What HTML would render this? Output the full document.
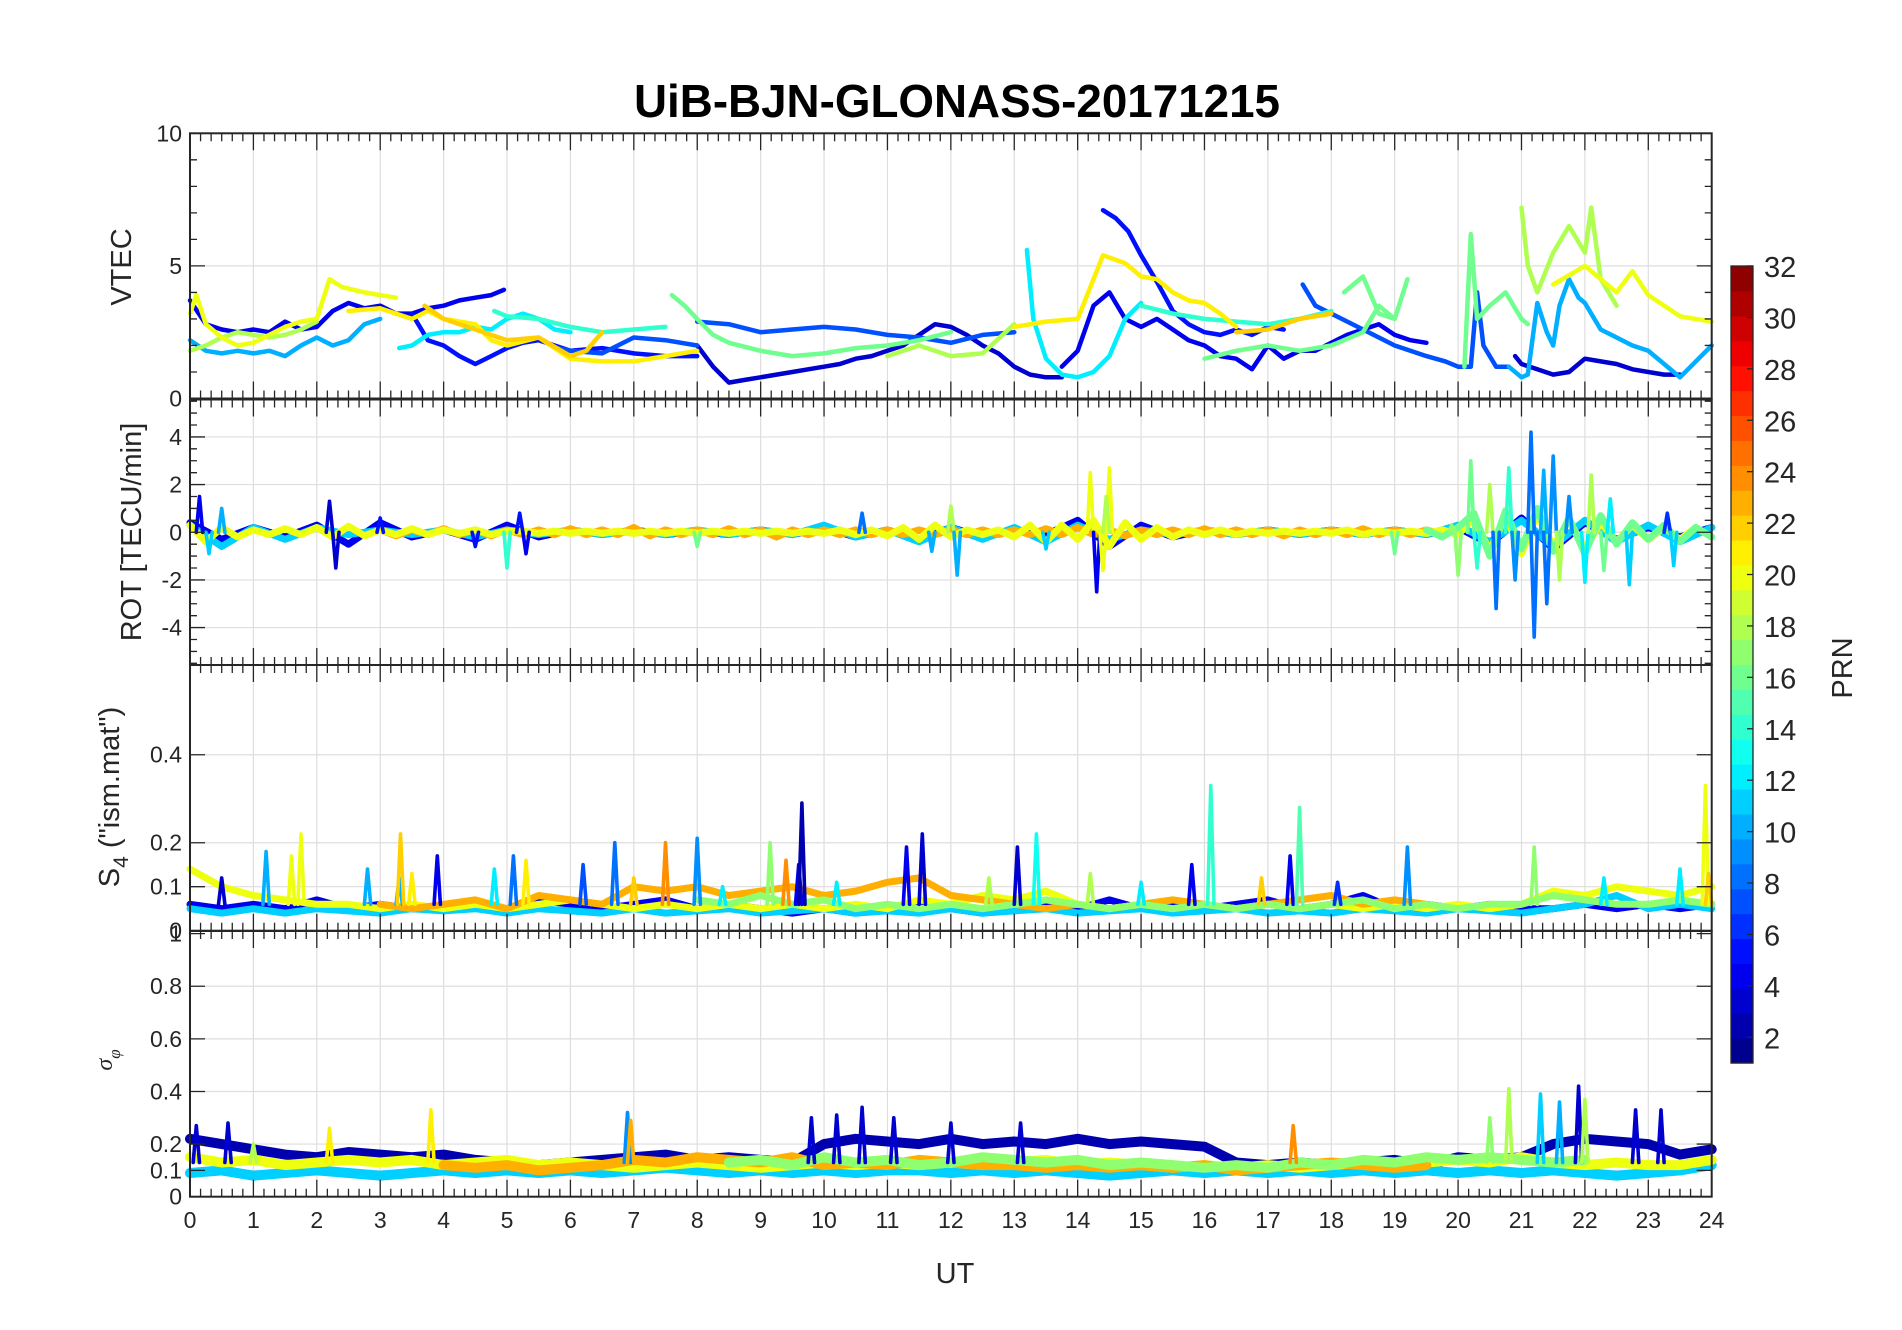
<!DOCTYPE html>
<html><head><meta charset="utf-8"><title>UiB-BJN-GLONASS-20171215</title>
<style>
html,body{margin:0;padding:0;background:#fff;}
svg{display:block;font-family:"Liberation Sans",Arial,sans-serif;}
</style></head>
<body>
<svg id="fig" width="1902" height="1330" viewBox="0 0 1902 1330" xmlns="http://www.w3.org/2000/svg">
<rect x="0" y="0" width="1902" height="1330" fill="#fff"/>
<text x="957" y="117" text-anchor="middle" font-size="46" font-weight="bold" textLength="646" lengthAdjust="spacingAndGlyphs" fill="#000">UiB-BJN-GLONASS-20171215</text>
<g id="grid"></g>
<g id="marks"></g>
<g id="axes"></g>
<g id="cbar"></g>
</svg>
<script>
// ---------- data ----------
const xTicks = [0,1,2,3,4,5,6,7,8,9,10,11,12,13,14,15,16,17,18,19,20,21,22,23,24];
const cbarTicks = [2,4,6,8,10,12,14,16,18,20,22,24,26,28,30,32];

// VTEC series
const vtecPrn = [4,5,5,3,3,4,7,7,7,10,10,12,12,14,14,16,16,16,16,18,18,18,20,20,21,21,22,22];
const vtecTimes = [
 [0,0.25,0.5,0.75,1,1.25,1.5,1.75,2,2.25,2.5,2.75,3,3.25,3.5,3.75,4,4.25,4.5,4.75,4.95],
 [3.5,3.75,4,4.25,4.5,4.75,5,5.25,5.5,5.75,6,6.5,7,7.5,8],
 [14.4,14.6,14.8,15,15.25,15.5,15.75,16,16.25,16.5,16.75,17,17.25],
 [8,8.25,8.5,8.75,9,9.25,9.5,9.75,10,10.25,10.5,10.75,11,11.25,11.5,11.75,12,12.25,12.5,12.75,13,13.25,13.5,13.75],
 [20.9,21,21.25,21.5,21.75,22,22.25,22.5,22.75,23,23.25,23.5],
 [13.75,14,14.25,14.5,14.75,15,15.25,15.5,15.75,16,16.25,16.5,16.75,17,17.25,17.5,17.75,18,18.25,18.5,18.75,19,19.25,19.5],
 [5.8,6,6.5,7,7.5,8],
 [8,8.5,9,9.5,10,10.5,11,11.5,12,12.5,13],
 [17.55,17.75,18,18.5,19,19.5,19.8,20,20.2,20.3,20.4,20.6,20.8],
 [0,0.25,0.5,0.75,1,1.25,1.5,1.75,2,2.25,2.5,2.75,3],
 [20.8,21,21.1,21.25,21.4,21.5,21.6,21.75,21.9,22,22.25,22.5,22.75,23,23.25,23.5,23.75,24],
 [13.2,13.3,13.5,13.75,14,14.25,14.5,14.75,15],
 [3.3,3.5,3.75,4,4.25,4.5,4.75,5,5.25,5.5,5.75,6],
 [4.8,5,5.5,6,6.5,7,7.5],
 [15,15.5,16,16.5,17,17.5,18],
 [7.6,7.8,8,8.25,8.5,9,9.5,10,10.5,11,11.5,12],
 [16,16.5,17,17.5,18,18.5,18.75,19],
 [18.2,18.5,18.75,19,19.2],
 [20.1,20.2,20.3,20.5,20.75,21,21.1],
 [0,0.25,0.5,0.75,1,1.25,1.5,1.75,2],
 [21,21.1,21.25,21.5,21.75,22,22.1,22.25,22.5],
 [11,11.5,12,12.5,13],
 [0,0.1,0.25,0.5,0.75,1,1.25,1.5,1.75,2,2.2,2.4,2.75,3,3.25],
 [21.5,22,22.5,22.75,23,23.5,24],
 [13,13.5,14,14.25,14.4,14.75,15,15.25,15.5,15.75,16,16.25,16.5],
 [2.5,3,3.5,3.75,4,4.5,4.75,5,5.5,6,6.5,7,7.5,8],
 [3.7,4,4.5,5,5.5,6,6.25,6.5],
 [16.5,17,17.5,18]
];
const vtecValues = [
 [3.7,2.8,2.6,2.5,2.6,2.5,2.9,2.6,2.7,3.3,3.6,3.4,3.5,3.2,3.2,3.4,3.5,3.7,3.8,3.9,4.1],
 [3.2,2.2,2.0,1.6,1.3,1.6,1.9,2.1,2.2,2.0,1.8,1.9,1.7,1.6,1.6],
 [7.1,6.8,6.3,5.4,4.4,3.3,2.8,2.5,2.4,2.6,2.4,2.7,2.6],
 [2.0,1.2,0.6,0.7,0.8,0.9,1.0,1.1,1.2,1.3,1.5,1.6,1.8,2.0,2.4,2.8,2.7,2.4,2.0,1.7,1.2,0.9,0.8,0.8],
 [1.6,1.3,1.1,0.9,1.0,1.5,1.4,1.3,1.1,1.0,0.9,0.9],
 [1.2,1.8,3.5,4.0,3.0,2.7,3.0,2.6,2.2,2.0,1.6,1.5,1.1,2.0,1.5,1.8,1.8,2.1,2.4,2.6,2.8,2.4,2.2,2.1],
 [1.9,1.8,1.7,2.3,2.2,2.0],
 [2.9,2.8,2.5,2.6,2.7,2.6,2.4,2.3,2.1,2.4,2.5],
 [4.3,3.5,3.2,2.6,2.0,1.6,1.4,1.2,1.2,4.0,2.0,1.2,1.2],
 [2.2,1.8,1.7,1.8,1.7,1.8,1.6,2.0,2.3,2.0,2.2,2.8,3.0],
 [1.2,0.8,0.9,3.6,2.5,2.0,3.5,4.5,3.8,3.6,2.6,2.3,2.0,1.8,1.3,0.8,1.4,2.0],
 [5.6,3.0,1.5,0.9,0.8,1.0,1.6,3.0,3.6],
 [1.9,2.0,2.4,2.5,2.5,2.7,2.6,3.0,3.2,3.0,2.6,2.5],
 [3.3,3.1,3.0,2.7,2.5,2.6,2.7],
 [3.5,3.2,3.0,2.9,2.8,3.0,3.3],
 [3.9,3.5,3.0,2.4,2.1,1.8,1.6,1.7,1.9,2.0,2.2,2.5],
 [1.5,1.8,2.0,1.8,2.0,2.5,3.5,3.0],
 [4.0,4.6,3.2,3.0,4.5],
 [1.2,6.2,3.0,3.5,4.0,3.0,2.8],
 [1.8,2.0,2.3,2.5,2.4,2.3,2.4,2.6,2.9],
 [7.2,5.0,4.0,5.5,6.5,5.5,7.2,4.5,3.5],
 [1.6,2.0,1.6,1.7,2.8],
 [3.2,3.9,2.8,2.3,2.0,2.1,2.4,2.7,2.9,3.0,4.5,4.2,4.0,3.9,3.8],
 [4.3,5.0,4.0,4.8,3.9,3.1,2.9],
 [2.7,2.9,3.0,4.5,5.4,5.1,4.6,4.5,4.0,3.7,3.6,3.2,2.7],
 [3.3,3.4,3.0,3.3,3.0,2.8,2.2,2.0,2.3,1.5,1.4,1.4,1.6,1.8],
 [3.5,3.0,2.6,2.2,2.3,1.6,1.8,2.5],
 [2.5,2.6,3.0,3.2]
];

// ROT bands
const rotBandPrn = [4,11,23,20,16];
const rotBandStart = [0,0,3,0,19.5];
const rotBandStep = [0.5,0.5,0.25,0.25,0.25];
const rotBandValues = [
 [0.4,-0.3,0.2,-0.2,0.3,-0.5,0.4,-0.2,0.1,-0.3,0.3,-0.2,0.1,-0.1,0.1,-0.1,0.05,-0.1,0.1,-0.1,0.2,-0.2,0.1,-0.3,0.2,-0.2,0.1,-0.1,0.5,-0.6,0.3,-0.2,0.1,-0.1,0.1,-0.1,0.1,-0.1,0.1,-0.1,0.2,-0.5,0.6,-0.7,0.4,-0.3,0.2,-0.2,0.2],
 [0.3,-0.6,0.2,-0.3,0.2,-0.1,0.1,-0.1,0.1,-0.2,0.1,-0.1,0.1,-0.1,0.05,-0.1,0.1,-0.1,0.1,-0.1,0.3,-0.2,0.1,-0.4,0.2,-0.3,0.2,-0.4,0.3,-0.3,0.1,-0.1,0.1,-0.1,0.1,-0.1,0.1,-0.1,0.1,-0.1,0.3,-0.4,0.5,-0.6,0.5,-0.4,0.3,-0.4,0.2],
 [0.1,-0.15,0.1,-0.1,0.15,-0.1,0.1,-0.15,0.1,-0.1,0.1,-0.1,0.15,-0.1,0.1,-0.1,0.2,-0.15,0.1,-0.1,0.1,-0.1,0.15,-0.1,0.1,-0.2,0.1,-0.1,0.1,-0.1,0.1,-0.1,0.1,-0.1,0.1,-0.1,0.1,-0.1,0.1,-0.1,0.1,-0.1,0.15,-0.1,0.2,-0.1,0.1,-0.15,0.1,-0.1,0.1,-0.1,0.15,-0.1,0.1,-0.1,0.1,-0.15,0.1,-0.1,0.1,-0.1,0.15,-0.1,0.1,-0.1,0.1,-0.1],
 [0.3,-0.4,0.2,-0.2,0.1,-0.1,0.15,-0.1,0.2,-0.2,0.25,-0.15,0.1,-0.1,0.15,-0.1,0.1,-0.05,0.1,-0.1,0.05,0.05,-0.05,0.05,-0.05,0.05,-0.05,0.05,-0.05,0.05,-0.05,0.05,-0.05,0.05,-0.05,0.05,-0.05,0.05,-0.05,0.05,-0.05,0.1,-0.1,0.1,-0.15,0.2,-0.3,0.3,-0.2,0.1,-0.1,0.1,-0.2,0.3,-0.4,0.3,-0.3,0.5,-0.6,0.4,-0.3,0.2,-0.2,0.1,-0.1,0.1,-0.1,0.05,-0.05,0.05,-0.05,0.05,-0.05,0.1,-0.1,0.05,-0.05,0.05,-0.05,0.1,-0.1,0.6,-0.8,0.7,-0.9,0.8,-0.6,0.5,-0.7,0.4,-0.4,0.3,-0.3,0.2,-0.3,0.2,-0.2],
 [0.1,-0.2,0.2,0.8,-1.0,0.9,-0.7,1.0,-0.8,0.6,-0.9,0.7,-0.5,0.4,-0.3,0.3,-0.4,0.2,-0.2]
];
const rotSpikeT = [0.15,0.3,0.5,2.2,2.3,3.0,4.5,5.0,5.2,5.3,8.0,10.6,11.7,12.0,12.1,13.5,14.2,14.3,14.4,14.5,14.45,19.0,19.9,20.0,20.2,20.3,20.5,20.6,20.8,20.9,21.15,21.2,21.35,21.4,21.5,21.6,21.75,22.0,22.1,22.3,22.4,22.7,23.3,23.4];
const rotSpikeV = [1.5,-0.9,1.0,1.3,-1.5,0.6,-0.6,-1.5,0.8,-0.9,-0.6,0.8,-0.8,1.1,-1.8,-0.7,2.5,-2.5,-1.6,2.7,1.5,-0.9,0.3,-1.8,3.0,-1.5,2.0,-3.2,2.7,-2.0,4.2,-4.4,2.6,-3.0,3.2,-2.0,1.5,-2.1,2.4,-1.6,1.4,-2.2,0.8,-1.4];
const rotSpikePrn = [4,11,10,3,3,5,5,14,5,4,16,8,10,18,10,11,20,4,20,20,18,16,17,17,16,14,18,8,14,9,8,8,10,8,9,18,9,12,18,16,12,11,6,11];

// S4 bands (step 0.5 h)
const s4BandPrn = [4,11,20,23,17];
const s4BandStart = [0,0,0,3,8];
const s4BandValues = [
 [0.06,0.05,0.06,0.05,0.07,0.05,0.06,0.05,0.05,0.06,0.05,0.07,0.06,0.05,0.06,0.07,0.05,0.06,0.05,0.04,0.05,0.04,0.05,0.06,0.05,0.04,0.05,0.06,0.05,0.07,0.05,0.06,0.05,0.06,0.07,0.05,0.06,0.08,0.05,0.06,0.05,0.06,0.05,0.05,0.06,0.05,0.06,0.05,0.06],
 [0.05,0.04,0.05,0.04,0.05,0.045,0.04,0.05,0.045,0.05,0.04,0.05,0.045,0.04,0.05,0.04,0.045,0.05,0.04,0.045,0.05,0.04,0.045,0.04,0.05,0.04,0.045,0.05,0.04,0.045,0.05,0.04,0.045,0.05,0.04,0.045,0.04,0.05,0.045,0.04,0.05,0.045,0.04,0.05,0.06,0.08,0.05,0.06,0.05],
 [0.14,0.1,0.08,0.07,0.06,0.06,0.05,0.06,0.05,0.06,0.05,0.06,0.07,0.06,0.05,0.06,0.05,0.06,0.05,0.06,0.05,0.06,0.05,0.07,0.06,0.08,0.07,0.09,0.06,0.05,0.06,0.05,0.06,0.05,0.06,0.05,0.06,0.05,0.06,0.05,0.06,0.05,0.06,0.09,0.08,0.1,0.09,0.08,0.1],
 [0.06,0.05,0.06,0.07,0.05,0.08,0.07,0.06,0.1,0.09,0.1,0.08,0.09,0.1,0.08,0.09,0.11,0.12,0.08,0.07,0.06,0.05,0.06,0.05,0.06,0.07,0.06,0.05,0.06,0.07,0.08,0.06,0.07,0.06],
 [0.07,0.06,0.08,0.06,0.07,0.05,0.06,0.05,0.06,0.05,0.06,0.07,0.06,0.05,0.06,0.05,0.06,0.05,0.06,0.05,0.06,0.07,0.05,0.06,0.05,0.06,0.06,0.08,0.07,0.06,0.06,0.07,0.06]
];
const s4SpikeT = [0.5,1.2,1.6,1.75,2.8,3.3,3.32,3.5,3.9,4.8,5.1,5.3,6.2,6.7,7.0,7.5,8.0,8.4,9.15,9.4,9.6,9.65,10.2,11.3,11.55,12.6,13.05,13.35,14.2,15.0,15.8,16.1,16.9,17.35,17.5,18.1,19.2,21.2,22.3,23.5,23.9,23.95];
const s4SpikeV = [0.12,0.18,0.17,0.22,0.14,0.12,0.22,0.13,0.17,0.14,0.17,0.16,0.15,0.2,0.12,0.2,0.21,0.1,0.2,0.16,0.15,0.29,0.11,0.19,0.22,0.12,0.19,0.22,0.13,0.11,0.15,0.33,0.12,0.17,0.28,0.11,0.19,0.19,0.12,0.14,0.33,0.13];
const s4SpikePrn = [3,10,20,20,10,10,22,21,4,12,8,21,7,8,22,24,9,12,17,24,4,2,12,4,3,18,3,13,18,12,4,14,22,4,15,6,9,17,12,12,20,22];

// sigma-phi bands (step 0.5 h)
const sigBandPrn = [2,11,20,23,17];
const sigBandStart = [0,0,0,4,8.5];
const sigBandValues = [
 [0.22,0.2,0.18,0.16,0.15,0.17,0.16,0.15,0.16,0.14,0.13,0.12,0.13,0.14,0.15,0.16,0.14,0.15,0.14,0.13,0.2,0.22,0.21,0.2,0.22,0.2,0.21,0.2,0.22,0.2,0.21,0.2,0.19,0.13,0.12,0.13,0.12,0.13,0.14,0.12,0.15,0.14,0.15,0.2,0.22,0.21,0.2,0.16,0.18],
 [0.09,0.1,0.08,0.09,0.1,0.09,0.08,0.09,0.1,0.09,0.1,0.09,0.1,0.09,0.1,0.11,0.1,0.09,0.1,0.09,0.1,0.09,0.1,0.1,0.09,0.1,0.09,0.1,0.09,0.08,0.09,0.1,0.09,0.1,0.09,0.1,0.09,0.1,0.09,0.1,0.09,0.1,0.09,0.1,0.09,0.08,0.09,0.1,0.12],
 [0.15,0.13,0.14,0.12,0.13,0.14,0.13,0.14,0.12,0.13,0.14,0.12,0.13,0.12,0.11,0.12,0.13,0.12,0.11,0.12,0.13,0.12,0.13,0.12,0.13,0.12,0.13,0.14,0.12,0.13,0.12,0.11,0.12,0.11,0.12,0.11,0.12,0.13,0.12,0.13,0.14,0.13,0.15,0.13,0.12,0.13,0.12,0.12,0.14],
 [0.12,0.11,0.12,0.1,0.11,0.12,0.14,0.13,0.15,0.14,0.13,0.15,0.12,0.13,0.12,0.14,0.13,0.12,0.12,0.11,0.12,0.11,0.12,0.11,0.12,0.1,0.11,0.12,0.13,0.12,0.11,0.12],
 [0.13,0.14,0.12,0.15,0.13,0.14,0.12,0.13,0.15,0.14,0.13,0.14,0.12,0.13,0.12,0.11,0.12,0.11,0.13,0.12,0.14,0.13,0.15,0.14,0.15,0.14,0.13,0.14]
];
const sigSpikeT = [0.1,0.6,1.0,2.2,3.8,6.9,6.95,9.8,10.2,10.6,11.1,12.0,13.1,17.4,20.5,20.8,21.3,21.6,21.9,22.0,22.8,23.2];
const sigSpikeV = [0.27,0.28,0.2,0.26,0.33,0.32,0.29,0.3,0.31,0.34,0.3,0.28,0.28,0.27,0.3,0.41,0.39,0.36,0.42,0.37,0.33,0.33];
const sigSpikePrn = [3,3,18,21,21,9,23,3,3,3,3,3,3,24,17,18,11,10,3,18,3,3];

// ---------- layout ----------
const X0 = 190, X1 = 1711.7;
function xS(t){ return X0 + t*(X1-X0)/24; }
const panels = [
 {name:'vtec', top:133.3, bot:398.5, ymin:0, ymax:10, major:[0,5,10], labels:[0,5,10], minor:1, grid:[5]},
 {name:'rot', top:399.5, bot:665, ymin:-5.57, ymax:5.57, major:[-4,-2,0,2,4], labels:[-4,-2,0,2,4], minor:0.5, grid:[-4,-2,0,2,4]},
 {name:'s4', top:665, bot:930.7, ymin:0, ymax:0.604, major:[0,0.1,0.2,0.4], labels:[0,0.1,0.2,0.4], minor:0, grid:[0.1,0.2,0.4]},
 {name:'sigma', top:931, bot:1196.7, ymin:0, ymax:1.01, major:[0,0.1,0.2,0.4,0.6,0.8,1], labels:[0,0.1,0.2,0.4,0.6,0.8,1], minor:0, grid:[0.1,0.2,0.4,0.6,0.8]}
];
function yS(p,v){ return p.bot - (v-p.ymin)/(p.ymax-p.ymin)*(p.bot-p.top); }

function jet(i,n){
 const x=(i+0.5)/n;
 const c=v=>Math.round(255*Math.max(0,Math.min(1,v)));
 return 'rgb('+c(1.5-Math.abs(4*x-3))+','+c(1.5-Math.abs(4*x-2))+','+c(1.5-Math.abs(4*x-1))+')';
}
function prnColor(p){ let i=Math.floor((p-1)/31*32); if(i>31)i=31; if(i<0)i=0; return jet(i,32); }

const NS='http://www.w3.org/2000/svg';
function mk(tag,attrs,parent){ const e=document.createElementNS(NS,tag); for(const k in attrs)e.setAttribute(k,attrs[k]); parent.appendChild(e); return e; }
const gGrid=document.getElementById('grid'), gMarks=document.getElementById('marks'), gAxes=document.getElementById('axes'), gCbar=document.getElementById('cbar');

panels.forEach(p=>{
 xTicks.forEach(t=>{ if(t>0&&t<24){ const l=mk('line',{x1:xS(t),x2:xS(t),y1:p.top,y2:p.bot,stroke:'#dedede','stroke-width':1.2},gGrid);
  
   }});
 p.grid.forEach(v=>{ const l=mk('line',{x1:X0,x2:X1,y1:yS(p,v),y2:yS(p,v),stroke:'#dedede','stroke-width':1.2},gGrid);
  
   });
 let d='';
 for(let k=0;k<=144;k++){ const x=xS(k/6); const len=(k%6===0)?17:8;
  d+='M'+x+' '+p.top+'v'+len+'M'+x+' '+p.bot+'v'+(-len); }
 p.major.forEach(v=>{ const y=yS(p,v); d+='M'+X0+' '+y+'h15M'+X1+' '+y+'h-15'; });
 if(p.minor>0){ for(let v=Math.ceil(p.ymin/p.minor)*p.minor; v<=p.ymax; v+=p.minor){ const y=yS(p,v); d+='M'+X0+' '+y+'h7M'+X1+' '+y+'h-7'; } }
 const ax=mk('path',{d:d,stroke:'#262626','stroke-width':1.3,fill:'none'},gAxes);
 
 
 const box=mk('rect',{x:X0,y:p.top,width:X1-X0,height:p.bot-p.top,fill:'none',stroke:'#262626','stroke-width':2},gAxes);
 
 
 p.labels.forEach(v=>{ const tx=mk('text',{x:X0-8,y:yS(p,v)+8,'text-anchor':'end','font-size':23,fill:'#262626'},gAxes);
  tx.textContent=String(v);
  
   });
});
xTicks.forEach(t=>{ const tx=mk('text',{x:xS(t),y:1228,'text-anchor':'middle','font-size':23,fill:'#262626'},gAxes);
 tx.textContent=String(t);
 
  });

function poly(p,ts,vs,prn,name,w){
 let d=''; ts.forEach((t,i)=>{ d+=(i?'L':'M')+xS(t).toFixed(1)+' '+yS(p,vs[i]).toFixed(1); });
 const e=mk('path',{d:d,stroke:prnColor(prn),'stroke-width':w||4.5,fill:'none','stroke-linejoin':'round','stroke-linecap':'round'},gMarks);
 
 
}
function band(p,starts,steps,vals,prns,name,w){
 vals.forEach((vs,j)=>{ const st=steps?steps[j]:0.5; const ts=vs.map((_,i)=>starts[j]+i*st); poly(p,ts,vs,prns[j],name+'-prn'+prns[j],w); });
}
function spikes(p,T,V,P,base,name){
 T.forEach((t,i)=>{ poly(p,[t-0.05,t,t+0.05],[base,V[i],base],P[i],name+'-spike',3.6); });
}
vtecValues.forEach((vs,j)=>poly(panels[0],vtecTimes[j],vs,vtecPrn[j],'vtec-line-prn'+vtecPrn[j]));
band(panels[1],rotBandStart,rotBandStep,rotBandValues,rotBandPrn,'rot-band',7);
spikes(panels[1],rotSpikeT,rotSpikeV,rotSpikePrn,0,'rot');
band(panels[2],s4BandStart,null,s4BandValues,s4BandPrn,'s4-band',7);
spikes(panels[2],s4SpikeT,s4SpikeV,s4SpikePrn,0.06,'s4');
band(panels[3],sigBandStart,null,sigBandValues,sigBandPrn,'sigma-band',10);
spikes(panels[3],sigSpikeT,sigSpikeV,sigSpikePrn,0.13,'sigma');

const CB={x:1731,w:22,top:266,bot:1063};
for(let i=0;i<32;i++){ const h=(CB.bot-CB.top)/32;
 const r=mk('rect',{x:CB.x,y:CB.bot-(i+1)*h,width:CB.w,height:h+0.6,fill:jet(i,32)},gCbar);
 
  }
const cbb=mk('rect',{x:CB.x,y:CB.top,width:CB.w,height:CB.bot-CB.top,fill:'none',stroke:'#262626','stroke-width':1.3},gCbar);


cbarTicks.forEach(v=>{ const y=CB.bot-(v-1)/31*(CB.bot-CB.top);
 mk('line',{x1:CB.x+CB.w-6,x2:CB.x+CB.w,y1:y,y2:y,stroke:'#262626','stroke-width':1.3},gCbar);
 const tx=mk('text',{x:1764,y:y+11,'font-size':29,fill:'#262626'},gCbar);
 tx.textContent=String(v);
 
  });
</script>
<script>
const f=document.getElementById('fig');
function lbl(html){ f.insertAdjacentHTML('beforeend',html); }
lbl('<text transform="translate(131,267) rotate(-90)" text-anchor="middle" font-size="29" fill="#262626">VTEC</text>');
lbl('<text transform="translate(141,532) rotate(-90)" text-anchor="middle" font-size="29" fill="#262626">ROT [TECU/min]</text>');
lbl('<text transform="translate(119,797) rotate(-90)" text-anchor="middle" font-size="29" fill="#262626">S<tspan font-size="21" dy="9">4</tspan><tspan dy="-9"> ("ism.mat")</tspan></text>');
lbl('<text transform="translate(112,1060) rotate(-90)" text-anchor="middle" font-size="24" font-style="italic" fill="#262626" font-family="Liberation Serif, serif">σ<tspan font-size="17" dy="8">φ</tspan></text>');
lbl('<text x="955" y="1283" text-anchor="middle" font-size="29" fill="#262626">UT</text>');
lbl('<text transform="translate(1852,668) rotate(-90)" text-anchor="middle" font-size="29" fill="#262626">PRN</text>');
</script>
</body></html>
